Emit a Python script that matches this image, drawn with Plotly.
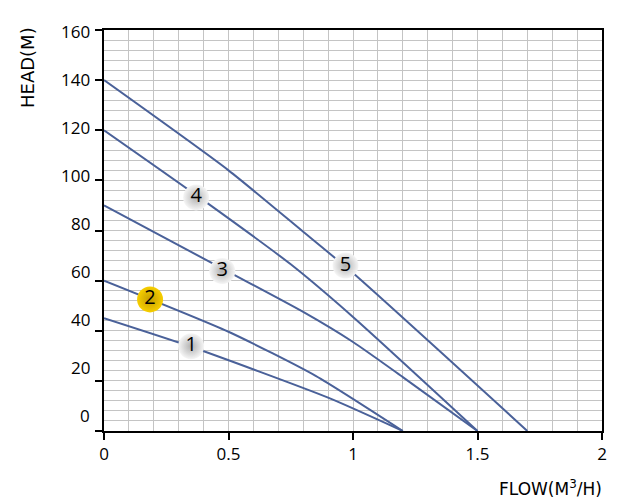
import plotly.graph_objects as go

# pump curves: flow (m3/h) vs head (m)
flow_1 = [0, 0.35, 0.9, 1.2]
head_1 = [45, 33.6, 13.3, 0]

flow_2 = [0, 0.5, 0.85, 1.2]
head_2 = [60, 39.6, 22, 0]

flow_3 = [0, 0.5, 0.8, 1.0, 1.2, 1.5]
head_3 = [90, 63.5, 47.5, 35.5, 21.5, 0]

flow_4 = [0, 0.4, 0.75, 1.0, 1.5]
head_4 = [120, 92, 66.5, 45.5, 0]

flow_5 = [0, 0.5, 0.8, 1.0, 1.7]
head_5 = [140, 104, 79.5, 63, 0]

# numbered badges on the curves
badge_text = ["1", "2", "3", "4", "5"]
badge_x = [0.35, 0.185, 0.475, 0.37, 0.97]
badge_y = [33.8, 52.5, 63.8, 93.2, 66]
badge_fill = ["#f6f6f6", "#f7cf00", "#f6f6f6", "#f6f6f6", "#f6f6f6"]
badge_edge = ["#b0b0b0", "#c49c00", "#b0b0b0", "#b0b0b0", "#b0b0b0"]

y_ticks = [0, 20, 40, 60, 80, 100, 120, 140, 160]
x_ticks = [0, 0.5, 1, 1.5, 2]
x_tick_text = ["0", "0.5", "1", "1.5", "2"]

LINE = "#4a6199"
GRID = "#c4c4c4"

fig = go.Figure()

for fx, hy in [(flow_1, head_1), (flow_2, head_2), (flow_3, head_3),
               (flow_4, head_4), (flow_5, head_5)]:
    fig.add_trace(go.Scatter(x=fx, y=hy, mode="lines",
                             line=dict(color=LINE, width=2, shape="spline", smoothing=0.6),
                             showlegend=False, hoverinfo="skip"))

fig.add_trace(go.Scatter(
    x=badge_x, y=badge_y, mode="markers+text", text=badge_text,
    textposition="middle center",
    textfont=dict(family="Open Sans", size=20, color="black"),
    marker=dict(size=26, color=badge_fill, line=dict(width=0),
                gradient=dict(type="radial", color=badge_edge)),
    showlegend=False, hoverinfo="skip"))

# y tick labels drift slightly upwards in the original, so place them by hand
annotations = []
for v in y_ticks:
    annotations.append(dict(
        xref="paper", x=0, xanchor="right", xshift=-12,
        yref="y", y=v, yanchor="middle", yshift=(160 - v) * 0.105 - 1.5,
        text=str(v), showarrow=False,
        font=dict(family="Open Sans", size=17, color="black")))

annotations.append(dict(
    xref="paper", x=0, xanchor="center", xshift=-77,
    yref="paper", y=1, yanchor="middle", yshift=-38,
    text="HEAD(M)", textangle=-90, showarrow=False,
    font=dict(family="DejaVu Sans", size=18, color="black")))
annotations.append(dict(
    xref="paper", x=1, xanchor="right", xshift=2, yref="paper", y=0,
    yanchor="middle", yshift=-57,
    text="FLOW(M<sup>3</sup>/H)", showarrow=False,
    font=dict(family="DejaVu Sans", size=17, color="black")))

# page body keeps its 8px margin, so the figure is a bit smaller than the window
fig.update_layout(
    width=615, height=495,
    margin=dict(l=96, r=21, t=22, b=72),
    paper_bgcolor="white", plot_bgcolor="white",
    annotations=annotations,
    font=dict(family="Open Sans", size=17, color="black"),
)

fig.update_xaxes(
    range=[0, 2], tickvals=x_ticks, ticktext=x_tick_text,
    showgrid=True, gridcolor=GRID, gridwidth=1,
    minor=dict(dtick=0.1, showgrid=True, gridcolor=GRID, gridwidth=1),
    showline=True, linecolor="black", linewidth=2, mirror=True,
    ticks="outside", ticklen=7, tickwidth=1.5, tickcolor="black",
    tickfont=dict(family="Open Sans", size=17, color="black"),
    zeroline=False, fixedrange=True,
)
fig.update_yaxes(
    range=[0, 160], tickvals=y_ticks, showticklabels=False,
    showgrid=True, gridcolor=GRID, gridwidth=1,
    minor=dict(dtick=4, showgrid=True, gridcolor=GRID, gridwidth=1),
    showline=True, linecolor="black", linewidth=2, mirror=True,
    ticks="outside", ticklen=7, tickwidth=1.5, tickcolor="black",
    zeroline=False, fixedrange=True,
)

fig.write_html("out.html")
